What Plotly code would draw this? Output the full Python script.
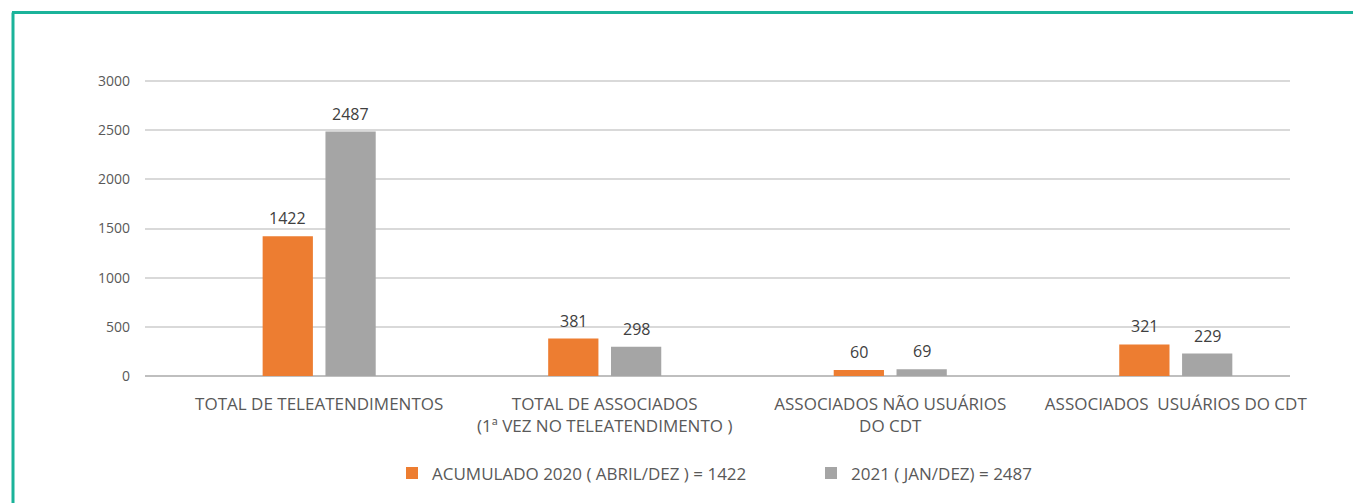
import plotly.graph_objects as go

categories = [
    "TOTAL DE TELEATENDIMENTOS",
    "TOTAL DE ASSOCIADOS<br>(1ª VEZ NO TELEATENDIMENTO )",
    "ASSOCIADOS NÃO USUÁRIOS<br>DO CDT",
    "ASSOCIADOS  USUÁRIOS DO CDT",
]
series_2020_name = "ACUMULADO 2020 ( ABRIL/DEZ ) = 1422"
series_2020 = [1422, 381, 60, 321]
series_2021_name = "2021 ( JAN/DEZ) = 2487"
series_2021 = [2487, 298, 69, 229]
y_ticks = [0, 500, 1000, 1500, 2000, 2500, 3000]

FONT = "Open Sans, Liberation Sans, sans-serif"
ORANGE = "#ED7D31"
GRAY = "#A5A5A5"
TEAL = "#1BB39A"

OFF = 8  # page body margin
W, H = 1361 - OFF, 503 - OFF
L, T = 145 - OFF, 80 - OFF
R = W - (1290 - OFF)
B = H - (378 - OFF)
pw, ph = W - L - R, H - T - B

X_RANGE = [-0.61, 3.4]
BARGAP, GROUPGAP = 0.56, 0.2
cat_px = pw / (X_RANGE[1] - X_RANGE[0])
slot_px = cat_px * (1 - BARGAP) / 2

def px(x):
    return (x - OFF - L) / pw

def py(y):
    return (H - B - (y - OFF)) / ph

fig = go.Figure()
fig.add_trace(go.Bar(
    x=categories, y=series_2020, name=series_2020_name,
    marker=dict(color=ORANGE, line=dict(width=0)),
))
fig.add_trace(go.Bar(
    x=categories, y=series_2021, name=series_2021_name,
    marker=dict(color=GRAY, line=dict(width=0)),
))

annotations = []
for vals, sign in ((series_2020, -1), (series_2021, 1)):
    for c, v in zip(categories, vals):
        annotations.append(dict(
            x=c, y=v, xref="x", yref="y", text=str(v), showarrow=False,
            xshift=sign * slot_px / 2, yshift=5, yanchor="bottom",
            font=dict(size=16, color="#404040", family=FONT),
        ))

shapes = [
    dict(type="line", xref="paper", yref="paper", x0=px(12), x1=px(1400), y0=py(12), y1=py(12),
         line=dict(color=TEAL, width=3)),
    dict(type="line", xref="paper", yref="paper", x0=px(13), x1=px(13), y0=py(12), y1=py(540),
         line=dict(color=TEAL, width=3)),
]

fig.update_layout(
    width=W, height=H,
    margin=dict(l=L, r=R, t=T, b=B),
    paper_bgcolor="white", plot_bgcolor="white",
    barmode="group", bargap=BARGAP, bargroupgap=GROUPGAP,
    font=dict(family=FONT, size=14, color="#595959"),
    showlegend=True,
    legend=dict(orientation="h", x=px(392), xanchor="left", y=py(476), yanchor="middle",
                font=dict(size=17, color="#595959", family=FONT),
                traceorder="normal", entrywidth=374, entrywidthmode="pixels"),
    shapes=shapes,
    annotations=annotations,
    xaxis=dict(range=X_RANGE, showgrid=False, showline=False, ticks="",
               ticklabelstandoff=16,
               tickfont=dict(size=17, color="#595959", family=FONT)),
    yaxis=dict(range=[0, 3012], tickvals=y_ticks, showgrid=True, gridcolor="#D9D9D9",
               gridwidth=1.5, zeroline=True, zerolinecolor="#BFBFBF", zerolinewidth=1.5,
               showline=False, ticks="", ticklabelstandoff=14,
               tickfont=dict(size=14, color="#595959", family=FONT)),
)

fig.write_html("out.html")
